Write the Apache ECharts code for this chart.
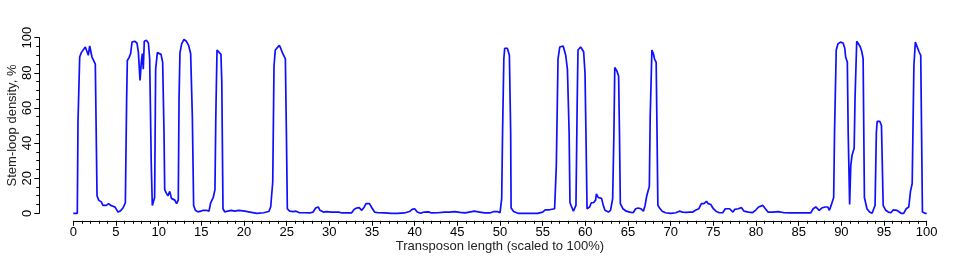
<!DOCTYPE html>
<html>
<head>
<meta charset="utf-8">
<script src="https://cdn.jsdelivr.net/npm/echarts@6/dist/echarts.min.js"></script>
<style>
html,body{margin:0;padding:0;background:#fff;}
#chart{width:975px;height:260px;}
</style>
</head>
<body>
<div id="chart"></div>
<script>
const xTitle = "Transposon length (scaled to 100%)";
const yTitle = "Stem-loop density, %";
const xPos = [0,0.47,0.55,0.75,0.94,1.13,1.41,1.6,1.76,1.92,2.04,2.19,2.42,2.58,2.78,2.97,3.28,3.48,3.87,4.14,4.38,4.65,4.9,5.24,5.55,5.82,6.1,6.25,6.33,6.52,6.72,6.88,7.19,7.46,7.62,7.82,7.97,8.09,8.2,8.32,8.56,8.8,8.95,9.14,9.26,9.42,9.53,9.65,9.85,10.08,10.28,10.47,10.63,10.71,10.9,11.1,11.3,11.5,11.7,11.9,12.1,12.3,12.39,12.5,12.7,12.97,13.24,13.52,13.75,13.95,14.1,14.3,14.6,14.95,15.2,15.6,15.9,16.1,16.4,16.6,16.7,16.84,17,17.3,17.4,17.54,17.74,18.1,18.5,18.9,19.4,20.1,20.7,21.5,22.3,22.9,23.13,23.37,23.52,23.67,23.9,24.14,24.3,24.5,24.7,24.85,24.97,25.08,25.35,25.74,26.1,26.5,27.1,27.7,28.1,28.4,28.7,28.9,29.3,29.7,30.2,30.7,31.1,31.5,32.1,32.6,32.9,33.2,33.5,33.8,34.1,34.3,34.7,35,35.3,35.7,36.5,37.3,38,38.8,39.4,39.7,40.0,40.3,40.7,41.1,41.6,42.0,42.7,43.5,44.1,44.7,45.3,45.9,46.4,47.0,47.6,48.2,48.8,49.3,49.7,50.0,50.2,50.3,50.45,50.55,50.86,51.1,51.25,51.3,51.6,52.1,52.9,53.7,54.4,55.0,55.3,55.8,56.4,56.6,56.8,57.0,57.4,57.7,57.9,58.1,58.2,58.4,58.6,58.9,59.05,59.14,59.45,59.6,59.8,59.96,60.07,60.2,60.5,60.7,60.96,61.2,61.3,61.5,61.7,61.9,62.1,62.3,62.7,62.95,63.2,63.35,63.45,63.7,63.9,64.0,64.1,64.4,64.8,65.2,65.6,65.9,66.2,66.5,66.8,67.0,67.2,67.4,67.5,67.6,67.8,67.97,68.1,68.3,68.4,68.5,68.7,69.0,69.4,70.0,70.6,71.0,71.4,71.8,72.2,72.6,72.9,73.3,73.6,73.9,74.2,74.4,74.7,75.0,75.3,75.7,76.1,76.4,76.9,77.3,77.5,77.9,78.3,78.6,79.1,79.6,80.0,80.3,80.5,80.8,81.1,81.4,82.0,82.6,83.3,84.1,84.9,85.7,86.4,86.7,87.0,87.2,87.4,87.7,88.1,88.4,88.6,88.8,89.1,89.2,89.4,89.6,89.9,90.2,90.4,90.5,90.7,90.8,90.97,91.1,91.25,91.5,91.6,91.8,92.0,92.2,92.4,92.55,92.7,92.85,93.0,93.3,93.6,93.8,93.95,94.1,94.2,94.5,94.7,94.85,94.9,95.2,95.5,95.8,96.1,96.5,96.7,97.0,97.3,97.6,97.9,98.1,98.3,98.5,98.67,98.86,99.1,99.3,99.4,99.5,99.8,100];
const density = [0,0,52,89,91.5,92,94.7,94,90,95.3,96,89,88,85,10,7.5,6.5,4.5,4.5,5.5,4.5,4,3.5,0.7,1.5,3,6,65,87,88.5,91,97.5,98,97,92,75.7,86,91,82,98,98.5,97,88,27,4.5,3.5,9,82,91.5,92.5,90.5,86,46,13.5,11.5,10,12.5,8.5,9,7.5,5.5,7.5,65,91.5,96.5,99,98,95.5,91,55,4.5,1.7,0.8,1.2,1.7,1.7,1.2,6,9,13.5,55,93,92.5,90.5,75,2.6,0.8,1.2,1.7,1.2,1.7,1.2,0.7,0,0.3,1,3.6,17.8,84,93,94,95.6,94,91.5,91,88,46,2.6,1.2,1,1.2,0.3,0.3,0.2,0.7,3,3.6,1.7,0.7,1,0.7,0.7,0.7,0.2,0.2,0.2,2.2,3,3.2,1.7,3.6,5.5,5.5,3,0.7,0.3,0.2,0,0,0.2,1,2.2,2.6,0.7,0,0.7,0.8,0.2,0.3,0.7,0.7,1,0.5,0.2,0.7,1.2,0.7,0.2,0.2,1,1,0.3,8.3,46,88,94,94,90,46,3,1,0,0,0,0,0.7,2,2,2.6,27,88,94.7,95.3,90,82,46,6,3.6,1.2,4.5,65,93,94.7,95.3,92,80,46,2.6,3.6,6,6,7.5,11,9,8.3,8.5,4.5,1.7,0.7,1.7,8.3,46,83,81,78,46,5.5,2.6,1.2,0.7,0.3,2.6,3,2.6,1.2,4.5,10,13.5,15.5,55,93,91,88,86,46,4.5,3,1.2,0.3,0,0.3,1.2,0.7,0.5,0.7,0.7,1.7,2.6,5.5,5.5,6.8,5.5,5,2.6,1.2,0.3,0.3,2.6,2.6,0.7,2.2,2.6,3.2,1.2,0.7,0.4,2,3.6,3,4.5,2.6,0.7,0.7,1,0.3,0.2,0.3,0.2,0.2,2.6,3.6,4,1.7,3,3.6,3.6,1.7,4.5,9,46,93,96.5,97.5,97,94,89,86,46,5,27,33,37,65,98,98.5,95,92,88,9,8.3,2.6,0.7,0,2.6,4.5,46,52.4,52.4,50,49,4.5,1.7,0.7,0.3,2,1.7,1.7,0,0,2.6,3.6,12.5,17,84,97.5,96.5,92,90,46,0.7,0,0];

const chart = echarts.init(document.getElementById('chart'), null, {renderer: 'canvas'});
const font = 'Liberation Sans, Arial, sans-serif';
chart.setOption({
  animation: false,
  backgroundColor: '#fff',
  grid: {left: 73.3, right: 48.3, top: 37.7, bottom: 46.7, containLabel: false, outerBoundsMode: 'none'},
  xAxis: {
    type: 'value', min: 0, max: 100, interval: 5,
    offset: 7.5,
    name: xTitle, nameLocation: 'middle', nameGap: 19, nameMoveOverlap: false,
    nameTextStyle: {fontFamily: font, fontSize: 13, color: '#222'},
    axisLine: {show: true, onZero: false, lineStyle: {color: '#000', width: 1}},
    axisTick: {show: true, length: 5, lineStyle: {color: '#000', width: 1}},
    minorTick: {show: true, splitNumber: 5, length: 3, lineStyle: {color: '#000', width: 1}},
    axisLabel: {fontFamily: font, fontSize: 13, color: '#000', margin: 5},
    splitLine: {show: false}
  },
  yAxis: {
    type: 'value', min: 0, max: 100, interval: 20,
    offset: 34,
    name: yTitle, nameLocation: 'middle', nameGap: 20, nameMoveOverlap: false,
    nameTextStyle: {fontFamily: font, fontSize: 13, color: '#222'},
    axisLine: {show: true, onZero: false, lineStyle: {color: '#000', width: 1}},
    axisTick: {show: true, length: 5, lineStyle: {color: '#000', width: 1}},
    minorTick: {show: true, splitNumber: 4, length: 3, lineStyle: {color: '#000', width: 1}},
    axisLabel: {fontFamily: font, fontSize: 13, color: '#000', margin: 5, rotate: 90},
    splitLine: {show: false}
  },
  series: [{
    type: 'line',
    data: xPos.map((x, i) => [x, density[i]]),
    showSymbol: false,
    symbol: 'none',
    lineStyle: {color: '#0f0fff', width: 1.7},
    clip: false
  }]
});
</script>
</body>
</html>
